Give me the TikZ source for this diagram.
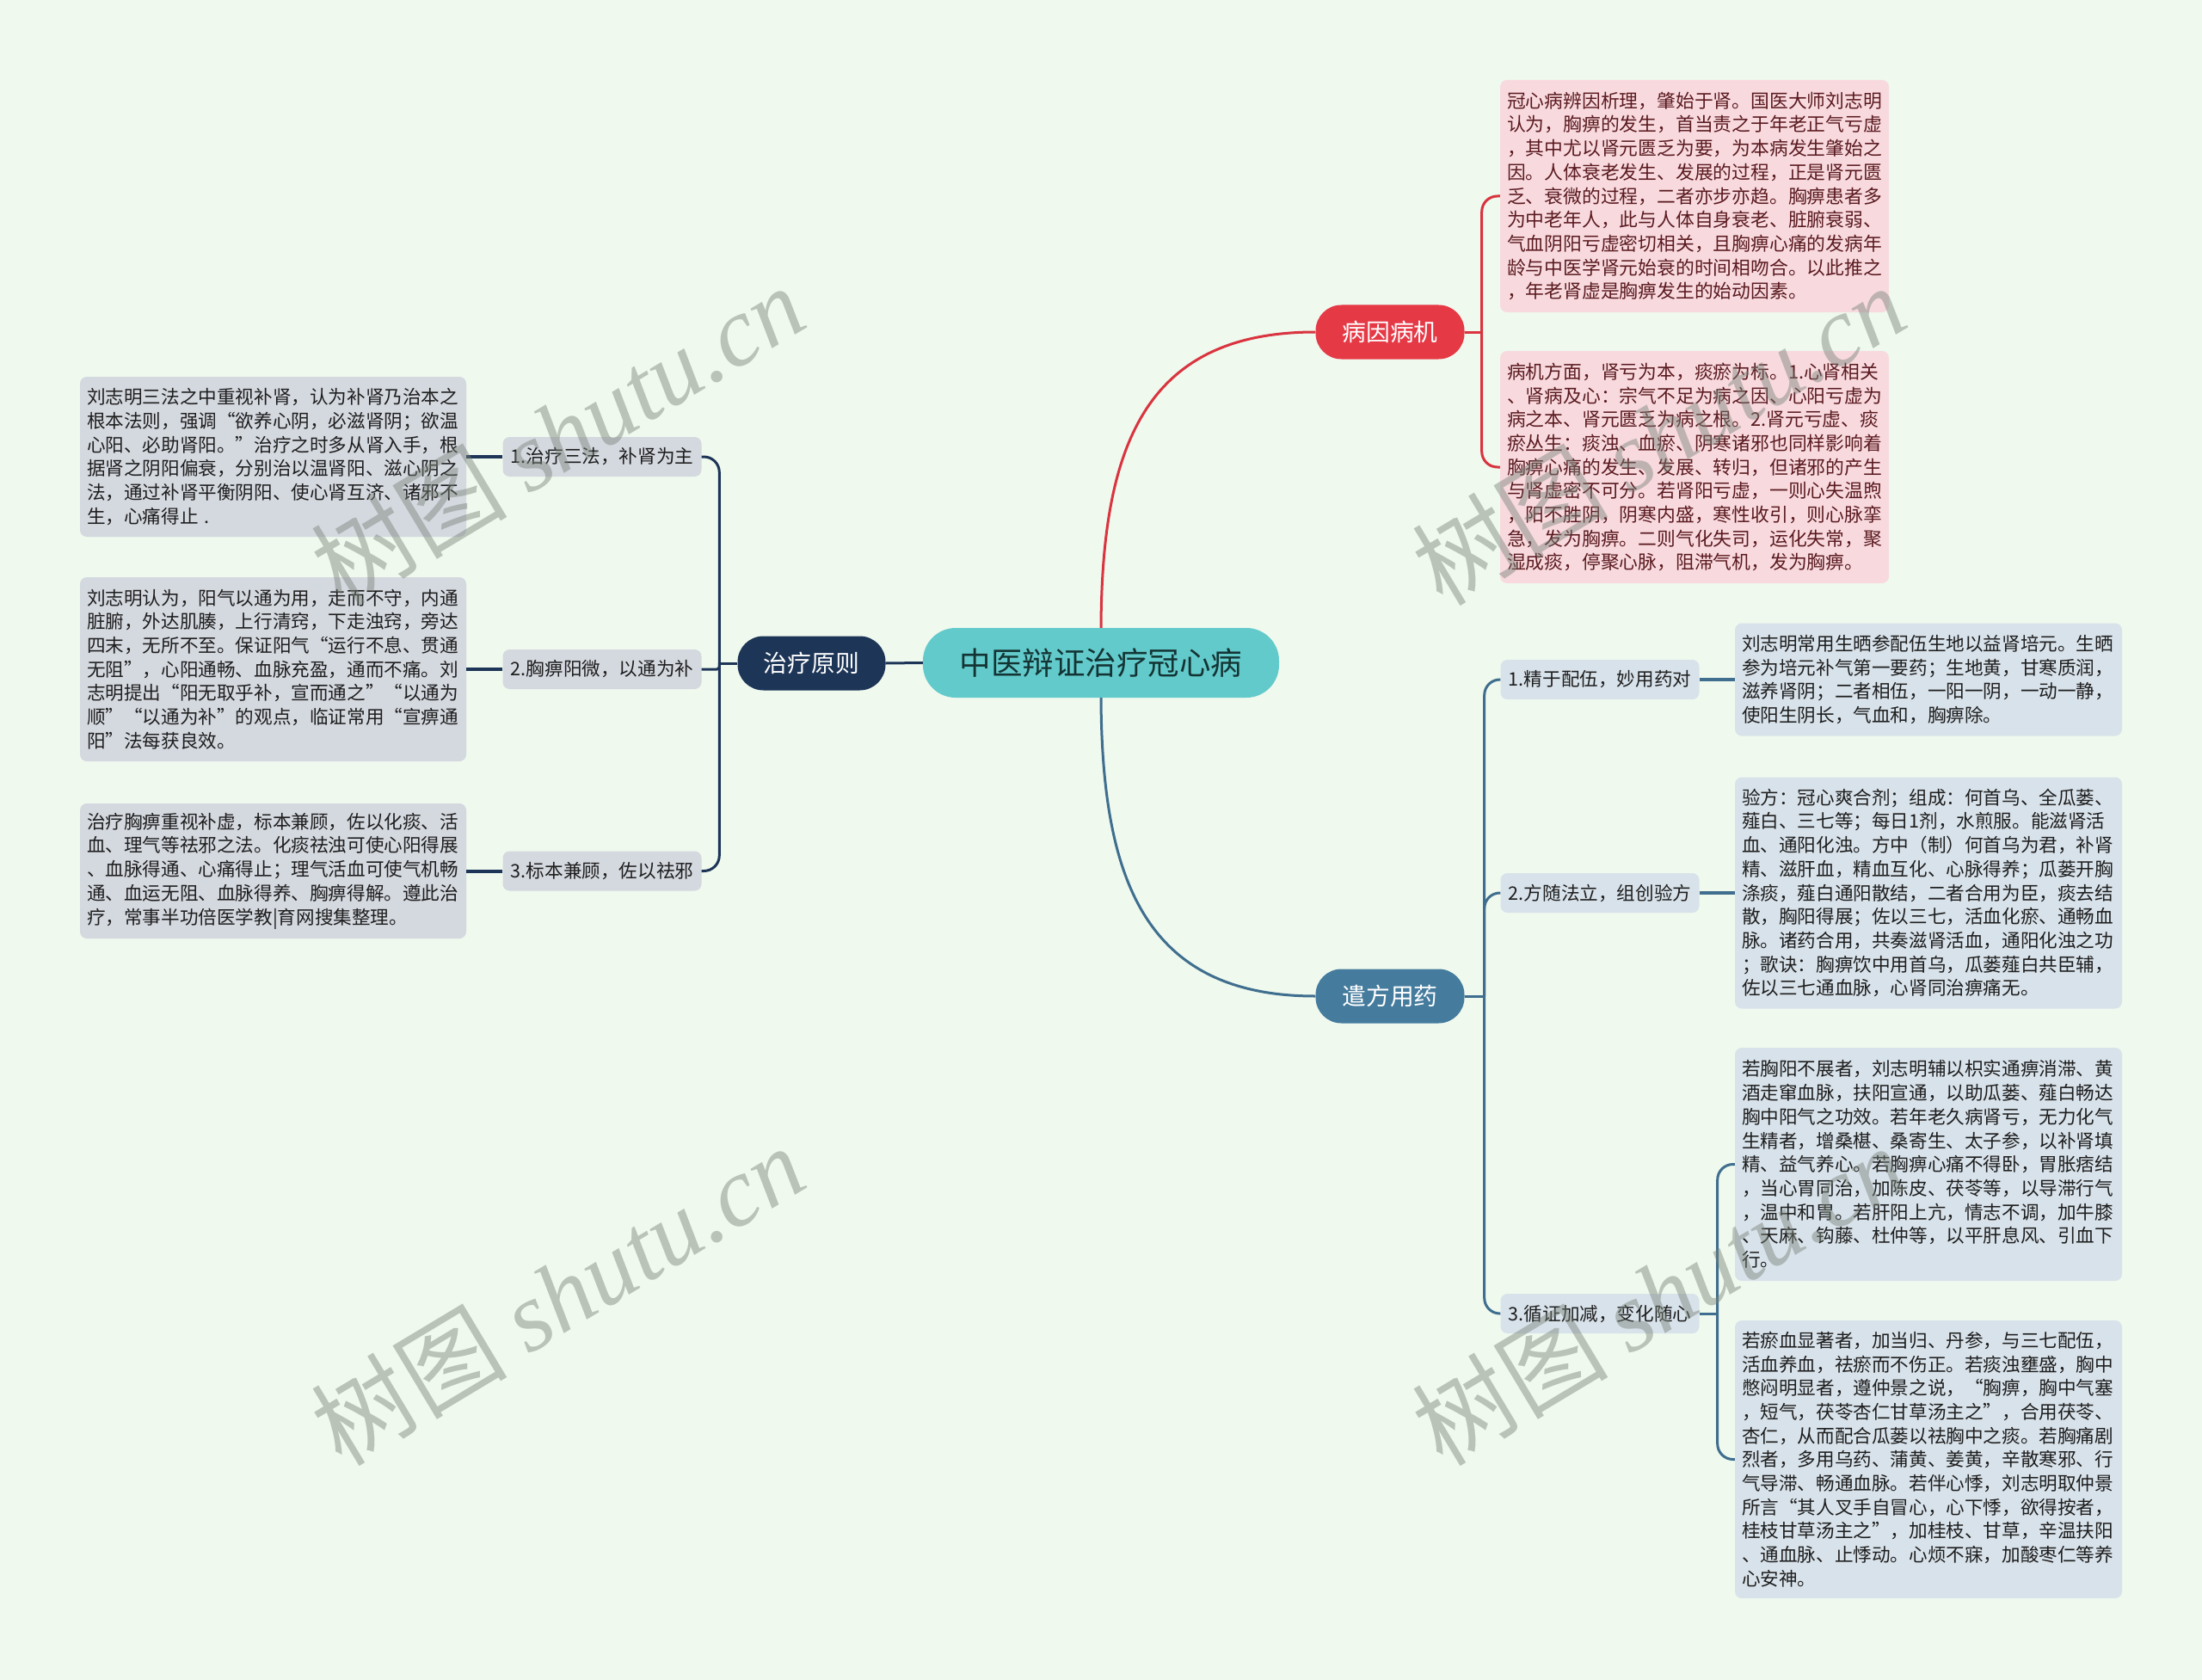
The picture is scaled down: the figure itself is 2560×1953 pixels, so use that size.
\documentclass[tikz,border=0pt]{standalone}
\usepackage{fontspec}
\setmainfont{Noto Sans CJK SC}
\newfontfamily\wmlatin{Liberation Serif}
\definecolor{bgc}{HTML}{EFF9EE}
\definecolor{pinkfill}{HTML}{F8DADE}
\definecolor{pinktext}{HTML}{5A1A20}
\definecolor{grayfill}{HTML}{D4D8DF}
\definecolor{bluefill}{HTML}{D8E2EA}
\definecolor{darktext}{HTML}{1E1E1E}
\definecolor{redc}{HTML}{E63946}
\definecolor{redl}{HTML}{D9343F}
\definecolor{bluec}{HTML}{457B9D}
\definecolor{bluel}{HTML}{3F6E8E}
\definecolor{navyc}{HTML}{1D3557}
\definecolor{tealc}{HTML}{63CACB}
\definecolor{tealtext}{HTML}{143434}
\definecolor{wmc}{HTML}{788278}
\tikzset{
 textbox/.style={rounded corners=8pt, inner xsep=8pt, inner ysep=4pt, align=left, text=darktext, font=\fontsize{21.6}{27.7}\selectfont},
 pinkbox/.style={textbox, fill=pinkfill, text=pinktext, font=\fontsize{21.8}{27.7}\selectfont},
 graybox/.style={textbox, fill=grayfill},
 bluebox/.style={textbox, fill=bluefill},
 lbl/.style={rounded corners=8pt, inner sep=0pt, minimum width=231pt, minimum height=46pt, font=\fontsize{21.6}{26}\selectfont, text=darktext},
 graylbl/.style={lbl, fill=grayfill},
 bluelbl/.style={lbl, fill=bluefill},
 mainnode/.style={rounded corners=30pt, text=white, minimum width=173pt, minimum height=63pt, inner sep=0pt, font=\fontsize{27.8}{30}\selectfont},
 redline/.style={draw=redl, line width=3pt},
 blueline/.style={draw=bluel, line width=3pt},
 navyline/.style={draw=navyc, line width=3pt},
 brk/.style={rounded corners=18pt},
 wm/.style={rotate=31, text=wmc, opacity=0.45, inner sep=0pt, font=\fontsize{114}{118}\selectfont}
}
\begin{document}
\begin{tikzpicture}[x=1pt,y=-1pt]
\useasboundingbox (0,0) rectangle (2560,1953);
\fill[bgc] (0,0) rectangle (2560,1953);

% central and main nodes
\node[fill=tealc, rounded corners=38pt, minimum width=414pt, minimum height=81pt, inner sep=0pt, text=tealtext, font=\fontsize{36.5}{40}\selectfont] (center) at (1280,770.5) {中医辩证治疗冠心病};
\node[mainnode, fill=redc] (bing) at (1616,386) {病因病机};
\node[mainnode, fill=bluec] (qian) at (1616,1158) {遣方用药};
\node[mainnode, fill=navyc, minimum width=172pt] (zhi) at (943.5,771) {治疗原则};

% red branch boxes
\node[pinkbox, minimum width=452pt, minimum height=270pt, text width=436pt] (p1) at (1970,228) {冠心病辨因析理，肇始于肾。国医大师刘志明\\认为，胸痹的发生，首当责之于年老正气亏虚\\，其中尤以肾元匮乏为要，为本病发生肇始之\\因。人体衰老发生、发展的过程，正是肾元匮\\乏、衰微的过程，二者亦步亦趋。胸痹患者多\\为中老年人，此与人体自身衰老、脏腑衰弱、\\气血阴阳亏虚密切相关，且胸痹心痛的发病年\\龄与中医学肾元始衰的时间相吻合。以此推之\\，年老肾虚是胸痹发生的始动因素。};
\node[pinkbox, minimum width=452pt, minimum height=270pt, text width=436pt] (p2) at (1970,543) {病机方面，肾亏为本，痰瘀为标。1.心肾相关\\、肾病及心：宗气不足为病之因、心阳亏虚为\\病之本、肾元匮乏为病之根。2.肾元亏虚、痰\\瘀丛生：痰浊、血瘀、阴寒诸邪也同样影响着\\胸痹心痛的发生、发展、转归，但诸邪的产生\\与肾虚密不可分。若肾阳亏虚，一则心失温煦\\，阳不胜阴，阴寒内盛，寒性收引，则心脉挛\\急，发为胸痹。二则气化失司，运化失常，聚\\湿成痰，停聚心脉，阻滞气机，发为胸痹。};

% left branch
\node[graylbl] (ll1) at (700,531) {1.治疗三法，补肾为主};
\node[graylbl] (ll2) at (700,778) {2.胸痹阳微，以通为补};
\node[graylbl] (ll3) at (700,1012.5) {3.标本兼顾，佐以祛邪};
\node[graybox, minimum width=449pt, minimum height=186pt, text width=433pt] (l1) at (317.5,531) {刘志明三法之中重视补肾，认为补肾乃治本之\\根本法则，强调“欲养心阴，必滋肾阴；欲温\\心阳、必助肾阳。”治疗之时多从肾入手，根\\据肾之阴阳偏衰，分别治以温肾阳、滋心阴之\\法，通过补肾平衡阴阳、使心肾互济、诸邪不\\生，心痛得止 .};
\node[graybox, minimum width=449pt, minimum height=214pt, text width=433pt] (l2) at (317.5,778) {刘志明认为，阳气以通为用，走而不守，内通\\脏腑，外达肌腠，上行清窍，下走浊窍，旁达\\四末，无所不至。保证阳气“运行不息、贯通\\无阻”，心阳通畅、血脉充盈，通而不痛。刘\\志明提出“阳无取乎补，宣而通之”“以通为\\顺”“以通为补”的观点，临证常用“宣痹通\\阳”法每获良效。};
\node[graybox, minimum width=449pt, minimum height=157pt, text width=433pt] (l3) at (317.5,1012.5) {治疗胸痹重视补虚，标本兼顾，佐以化痰、活\\血、理气等祛邪之法。化痰祛浊可使心阳得展\\、血脉得通、心痛得止；理气活血可使气机畅\\通、血运无阻、血脉得养、胸痹得解。遵此治\\疗，常事半功倍医学教|育网搜集整理。};

% right lower branch
\node[bluelbl] (r1) at (1860,790) {1.精于配伍，妙用药对};
\node[bluelbl] (r2) at (1860,1038) {2.方随法立，组创验方};
\node[bluelbl] (r3) at (1860,1527) {3.循证加减，变化随心};
\node[bluebox, minimum width=450pt, minimum height=131pt, text width=434pt] (rt1) at (2242,790) {刘志明常用生晒参配伍生地以益肾培元。生晒\\参为培元补气第一要药；生地黄，甘寒质润，\\滋养肾阴；二者相伍，一阳一阴，一动一静，\\使阳生阴长，气血和，胸痹除。};
\node[bluebox, minimum width=450pt, minimum height=269pt, text width=434pt] (rt2) at (2242,1038) {验方：冠心爽合剂；组成：何首乌、全瓜蒌、\\薤白、三七等；每日1剂，水煎服。能滋肾活\\血、通阳化浊。方中（制）何首乌为君，补肾\\精、滋肝血，精血互化、心脉得养；瓜蒌开胸\\涤痰，薤白通阳散结，二者合用为臣，痰去结\\散，胸阳得展；佐以三七，活血化瘀、通畅血\\脉。诸药合用，共奏滋肾活血，通阳化浊之功\\；歌诀：胸痹饮中用首乌，瓜蒌薤白共臣辅，\\佐以三七通血脉，心肾同治痹痛无。};
\node[bluebox, minimum width=450pt, minimum height=271pt, text width=434pt] (rt3) at (2242,1353.5) {若胸阳不展者，刘志明辅以枳实通痹消滞、黄\\酒走窜血脉，扶阳宣通，以助瓜蒌、薤白畅达\\胸中阳气之功效。若年老久病肾亏，无力化气\\生精者，增桑椹、桑寄生、太子参，以补肾填\\精、益气养心。若胸痹心痛不得卧，胃胀痞结\\，当心胃同治，加陈皮、茯苓等，以导滞行气\\，温中和胃。若肝阳上亢，情志不调，加牛膝\\、天麻、钩藤、杜仲等，以平肝息风、引血下\\行。};
\node[bluebox, minimum width=450pt, minimum height=323pt, text width=434pt] (rt4) at (2242,1696.5) {若瘀血显著者，加当归、丹参，与三七配伍，\\活血养血，祛瘀而不伤正。若痰浊壅盛，胸中\\憋闷明显者，遵仲景之说，“胸痹，胸中气塞\\，短气，茯苓杏仁甘草汤主之”，合用茯苓、\\杏仁，从而配合瓜蒌以祛胸中之痰。若胸痛剧\\烈者，多用乌药、蒲黄、姜黄，辛散寒邪、行\\气导滞、畅通血脉。若伴心悸，刘志明取仲景\\所言“其人叉手自冒心，心下悸，欲得按者，\\桂枝甘草汤主之”，加桂枝、甘草，辛温扶阳\\、通血脉、止悸动。心烦不寐，加酸枣仁等养\\心安神。};

% connectors from the centre
\draw[redline] (center.north) .. controls (1281,520) and (1330,386) .. (bing.west);
\draw[blueline] (center.south) .. controls (1281,1021) and (1330,1158) .. (qian.west);
\draw[navyline] (center.west) -- (zhi.east);

% red bracket
\coordinate (rj) at ([xshift=20pt]bing.east);
\draw[redline] (bing.east) -- (rj);
\draw[redline, brk] (rj) |- (p1.west);
\draw[redline, brk] (rj) |- (p2.west);

% left bracket
\coordinate (lj) at ([xshift=-21pt]zhi.west);
\draw[navyline] (zhi.west) -- (lj);
\draw[navyline, brk] (lj) |- (ll1.east);
\draw[navyline, rounded corners=3pt] (lj) |- (ll2.east);
\draw[navyline, brk] (lj) |- (ll3.east);
\draw[navyc, line width=4pt] (ll1.west) -- (l1.east);
\draw[navyc, line width=4pt] (ll2.west) -- (l2.east);
\draw[navyc, line width=4pt] (ll3.west) -- (l3.east);

% blue bracket
\coordinate (bj) at ([xshift=23pt]qian.east);
\draw[blueline] (qian.east) -- (bj);
\draw[blueline, brk] (bj) |- (r1.west);
\draw[blueline, brk] (bj) |- (r2.west);
\draw[blueline, brk] (bj) |- (r3.west);
\draw[bluel, line width=4pt] (r1.east) -- (rt1.west);
\draw[bluel, line width=4pt] (r2.east) -- (rt2.west);
\coordinate (sj) at ([xshift=21pt]r3.east);
\draw[blueline] (r3.east) -- (sj);
\draw[blueline, brk] (sj) |- (rt3.west);
\draw[blueline, brk] (sj) |- (rt4.west);

% watermarks
\node[wm] (wm1) at (648,505) {树图 {\wmlatin\itshape shutu.cn}};
\node[wm] (wm2) at (648,1505) {树图 {\wmlatin\itshape shutu.cn}};
\node[wm] (wm3) at (1928,505) {树图 {\wmlatin\itshape shutu.cn}};
\node[wm] (wm4) at (1928,1505) {树图 {\wmlatin\itshape shutu.cn}};
\end{tikzpicture}
\end{document}
